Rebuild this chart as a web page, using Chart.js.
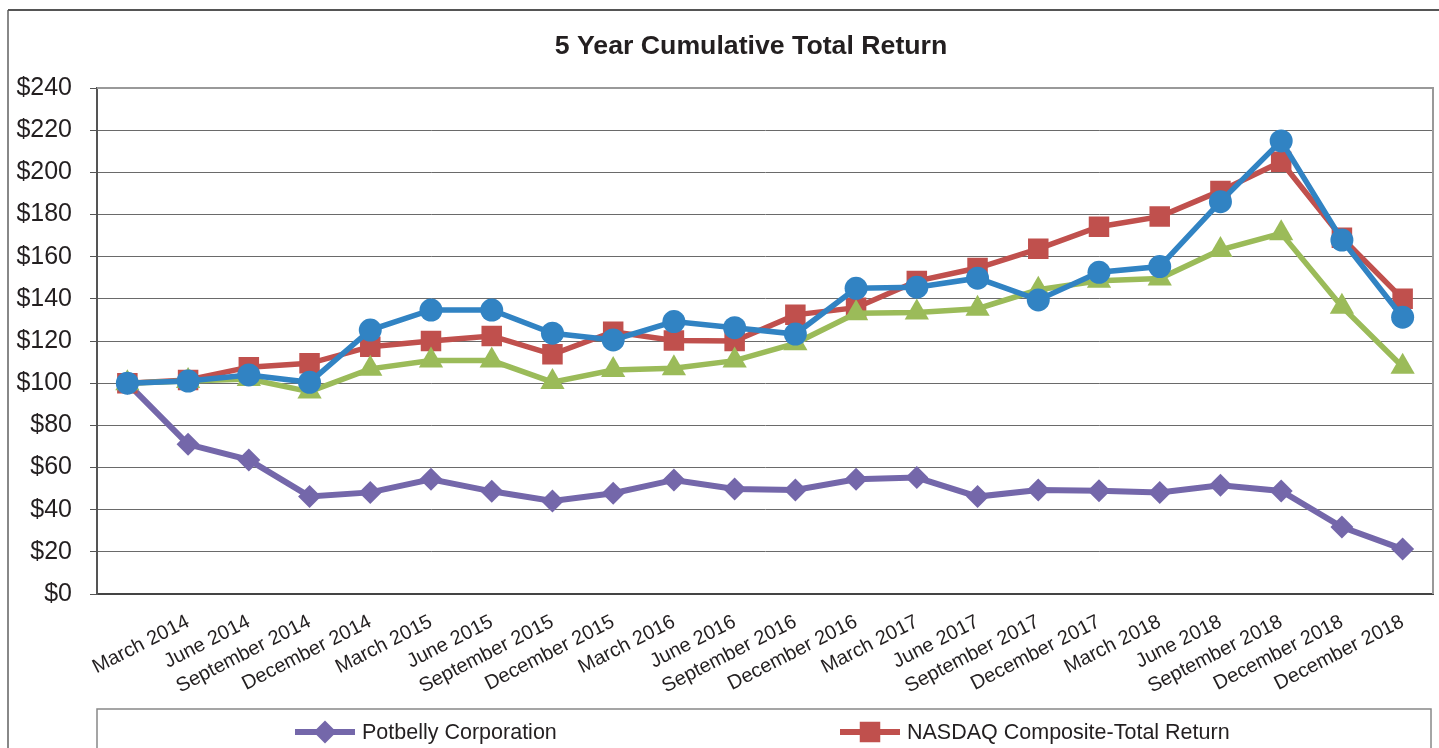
<!DOCTYPE html>
<html>
<head>
<meta charset="utf-8">
<script src="https://cdn.jsdelivr.net/npm/chart.js@4.4.1/dist/chart.umd.min.js"></script>
<style>
html,body{margin:0;padding:0;background:#fff;overflow:hidden;}
canvas{display:block;}
</style>
</head>
<body>
<canvas id="c" width="1439" height="748"></canvas>
<script>
const categories = ["", "March 2014","June 2014","September 2014","December 2014","March 2015","June 2015","September 2015","December 2015","March 2016","June 2016","September 2016","December 2016","March 2017","June 2017","September 2017","December 2017","March 2018","June 2018","September 2018","December 2018","December 2018"];
const potbelly = [100, 71, 63.6, 46.3, 48.2, 54.4, 48.7, 44.1, 47.8, 54.1, 49.8, 49.3, 54.4, 55.2, 46.2, 49.3, 49.0, 48.1, 51.6, 48.9, 31.8, 21.3];
const nasdaq = [100, 101.5, 107.6, 109.4, 117.3, 120, 122.4, 113.7, 124.4, 120.2, 120, 132.4, 135.8, 148.4, 154.6, 163.7, 174.2, 179, 191.2, 205, 169, 140];
const restaurantsA = [100, 101, 102, 96, 106.8, 110.7, 110.7, 100.5, 106.2, 107.1, 110.7, 118.9, 133.2, 133.5, 135.3, 144.3, 148.6, 149.6, 163.2, 171.1, 136.3, 107.8];
const restaurantsB = [100, 101, 103.9, 100.4, 125.2, 134.7, 134.7, 123.7, 120.5, 129.2, 126.3, 123.3, 145, 145.5, 149.8, 139.5, 152.6, 155.3, 186.1, 214.9, 167.9, 131.3];
const yTicks = [0, 20, 40, 60, 80, 100, 120, 140, 160, 180, 200, 220, 240];
const seriesNames = ["Potbelly Corporation", "NASDAQ Composite-Total Return", "S&P SmallCap 600 Restaurants", "S&P 500 Restaurants"];
const chartTitle = "5 Year Cumulative Total Return";

const FONT = "'Liberation Sans', Arial, sans-serif";
const TEXT = '#231f20';
const PURPLE = '#7467aa', RED = '#c0504d', GREEN = '#9bbb59', BLUE = '#3183c3';

const framePlugin = {
  id: 'frame',
  beforeDraw(chart) {
    const ctx = chart.ctx;
    ctx.save();
    ctx.fillStyle = '#fff';
    ctx.fillRect(0, 0, chart.width, chart.height);
    ctx.strokeStyle = '#888';
    ctx.lineWidth = 2;
    ctx.beginPath(); ctx.moveTo(8, 10); ctx.lineTo(8, chart.height); ctx.stroke();
    ctx.strokeStyle = '#555';
    ctx.beginPath(); ctx.moveTo(8, 10); ctx.lineTo(chart.width, 10); ctx.stroke();
    ctx.restore();
  },
  beforeDatasetsDraw(chart) {
    const ctx = chart.ctx, a = chart.chartArea;
    ctx.save();
    ctx.strokeStyle = '#999';
    ctx.lineWidth = 2;
    ctx.beginPath(); ctx.moveTo(a.left, a.top); ctx.lineTo(a.right, a.top); ctx.lineTo(a.right, a.bottom); ctx.stroke();
    ctx.restore();
  },
  afterDraw(chart) {
    const ctx = chart.ctx;
    ctx.save();
    ctx.fillStyle = TEXT;
    ctx.font = "bold 26.7px " + FONT;
    ctx.textAlign = 'center';
    ctx.textBaseline = 'middle';
    ctx.fillText(chartTitle, 751, 47);
    ctx.strokeStyle = '#888';
    ctx.lineWidth = 1.5;
    ctx.strokeRect(97, 709, 1334, 70);
    const entries = [
      {ds: 0, x: 295},
      {ds: 1, x: 840}
    ];
    const y = 732;
    entries.forEach(e => {
      const ds = chart.data.datasets[e.ds];
      ctx.strokeStyle = ds.borderColor;
      ctx.lineWidth = 6;
      ctx.beginPath(); ctx.moveTo(e.x, y); ctx.lineTo(e.x + 60, y); ctx.stroke();
      ctx.save();
      ctx.fillStyle = ds.backgroundColor;
      ctx.strokeStyle = ds.backgroundColor;
      Chart.helpers.drawPoint(ctx, {pointStyle: ds.pointStyle, radius: ds.pointRadius, borderWidth: 0}, e.x + 30, y);
      ctx.restore();
      ctx.fillStyle = TEXT;
      ctx.font = "21.5px " + FONT;
      ctx.textAlign = 'left';
      ctx.textBaseline = 'middle';
      ctx.fillText(ds.label, e.x + 67, y + 1);
    });
    ctx.restore();
  }
};

function makeDs(label, data, color, style, radius, order, width) {
  return {
    label, data, order,
    borderColor: color, backgroundColor: color,
    pointBackgroundColor: color, pointBorderColor: color,
    pointStyle: style, pointRadius: radius, pointHoverRadius: radius,
    pointBorderWidth: 0,
    borderWidth: width, tension: 0, fill: false
  };
}

new Chart(document.getElementById('c'), {
  type: 'line',
  data: {
    labels: categories,
    datasets: [
      makeDs(seriesNames[0], potbelly, PURPLE, 'rectRot', 11.5, 4, 6),
      makeDs(seriesNames[1], nasdaq, RED, 'rect', 14.5, 3, 5.5),
      makeDs(seriesNames[2], restaurantsA, GREEN, 'triangle', 14, 2, 5.5),
      makeDs(seriesNames[3], restaurantsB, BLUE, 'circle', 11.5, 1, 5.5)
    ]
  },
  options: {
    responsive: false,
    animation: false,
    events: [],
    layout: { autoPadding: false, padding: { left: 0, top: 88, right: 6, bottom: 0 } },
    plugins: { legend: { display: false }, title: { display: false }, tooltip: { enabled: false } },
    scales: {
      x: {
        offset: true,
        grid: { display: false, drawTicks: false },
        border: { display: true, color: '#444', width: 2 },
        ticks: {
          autoSkip: false, maxRotation: 27, minRotation: 27,
          color: TEXT, font: { family: FONT, size: 20 }, padding: 16
        },
        afterFit(scale) { scale.height = 154; scale.paddingLeft = 0; scale.paddingRight = 0; }
      },
      y: {
        min: 0, max: 240,
        afterBuildTicks(scale) { scale.ticks = yTicks.map(v => ({ value: v })); },
        grid: { color: '#6a6a6a', lineWidth: 1, tickLength: 7, drawTicks: true, tickColor: '#555' },
        border: { display: true, color: '#555', width: 2 },
        ticks: {
          color: TEXT, font: { family: FONT, size: 25 }, padding: 18,
          callback: v => '$' + v
        },
        afterFit(scale) { scale.width = 97; }
      }
    }
  },
  plugins: [framePlugin]
});
</script>
</body>
</html>
